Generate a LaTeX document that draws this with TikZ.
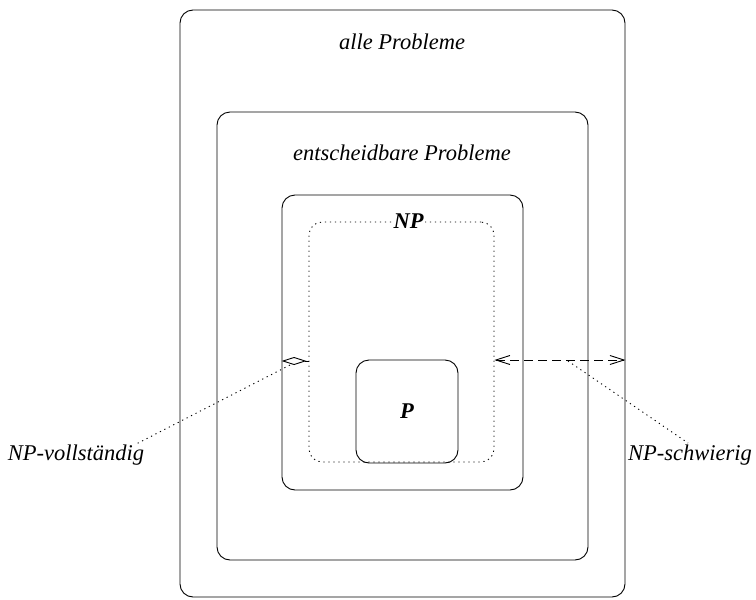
\documentclass[tikz,border=0pt]{standalone}
\usepackage{fontspec}
\setmainfont{Liberation Serif}
\usetikzlibrary{arrows.meta,positioning}

\begin{document}
\begin{tikzpicture}[x=1pt,y=-1pt,font=\fontsize{22.5}{26}\selectfont\itshape,
    box/.style={draw,line width=0.9pt,rounded corners=13pt,inner sep=0pt},
    dotbox/.style={box,dash pattern=on 1.2pt off 3.8pt},
    pointer/.style={line width=0.9pt,dash pattern=on 1.2pt off 3.8pt}]
   \useasboundingbox (0,0) rectangle (756,600);
   % nested classes
   \node[box,minimum width=445pt,minimum height=587pt] (alle) at (402.5,303.5) {};
   \node[box,minimum width=371pt,minimum height=448pt] (ent) at (402.5,336) {};
   \node[box,minimum width=241pt,minimum height=295pt] (inner) at (402.5,342.5) {};
   \node[dotbox,minimum width=185pt,minimum height=240pt] (np) at (401.5,342) {};
   \node[box,minimum width=102pt,minimum height=103pt] (p) at (407,411.5) {};
   % labels
   \node (alleL) at (402,42) {alle Probleme};
   \node (entL) at (402,153) {entscheidbare Probleme};
   \node[fill=white,inner sep=2pt,font=\fontsize{22.5}{26}\selectfont\bfseries\itshape] (npL) at ([xshift=7pt]np.north) {NP};
   \node[font=\fontsize{22.5}{26}\selectfont\bfseries\itshape] (pL) at (p.center) {P};
   \node (voll) at (76,455) {NP-vollständig};
   \node (schw) at (690,455) {NP-schwierig};
   % arrows
   \coordinate (dl) at (np.west |- 0,361);
   \coordinate (il) at (inner.west |- 0,361);
   \coordinate (dr) at (np.east |- 0,360);
   \coordinate (ar) at (alle.east |- 0,360);
   \coordinate (vt) at (290,365);
   \coordinate (st) at (568,361);
   \draw[line width=0.9pt,-{Diamond[open,length=25pt,width=8pt]}] (dl) -- (il);
   \draw[line width=0.9pt,dash pattern=on 9pt off 5pt,
     {Straight Barb[length=14pt,width=9pt]}-{Straight Barb[length=14pt,width=9pt]}] (dr) -- (ar);
   \draw[pointer] (voll.north east) ++(-10pt,-2pt) -- (vt);
   \draw[pointer] (st) -- (688,443);
\end{tikzpicture}
\end{document}
